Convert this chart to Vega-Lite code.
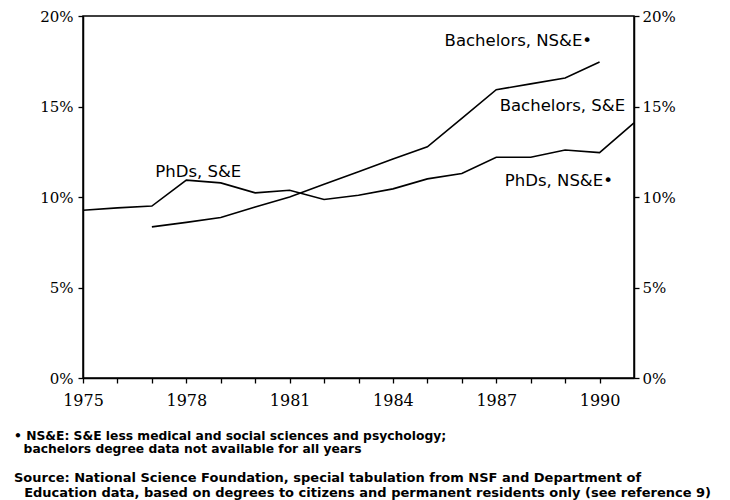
{
  "$schema": "https://vega.github.io/schema/vega-lite/v6.json",
  "autosize": "none",
  "width": 551,
  "height": 362,
  "padding": {"left": 83, "top": 16, "right": 96, "bottom": 122},
  "background": "white",
  "config": {
    "view": {"stroke": "black", "strokeWidth": 1.5},
    "axis": {"domainColor": "black", "tickColor": "black", "labelColor": "black", "grid": false, "domainWidth": 1.5, "tickWidth": 1.3, "labelOverlap": false, "labelFlush": false},
    "axisX": {"labelOverlap": false}
  },
  "title": {
    "text": ["\u2022 NS&E: S&E less medical and social sciences and psychology;", "\u2800bachelors degree data not available for all years"],
    "subtitle": ["Source: National Science Foundation, special tabulation from NSF and Department of", "\u2800Education data, based on degrees to citizens and permanent residents only (see reference 9)"],
    "orient": "bottom",
    "anchor": "start",
    "frame": "group",
    "dx": -69,
    "offset": 22,
    "font": "DejaVu Sans",
    "fontSize": 12.3,
    "fontWeight": "bold",
    "lineHeight": 13,
    "color": "black",
    "subtitleFont": "DejaVu Sans",
    "subtitleFontSize": 13,
    "subtitleFontWeight": "bold",
    "subtitleLineHeight": 15,
    "subtitleColor": "black",
    "subtitlePadding": 17
  },
  "layer": [
    {
      "data": {"values": [
        {"series": "PhDs, S&E", "year": 1975, "pct": 9.27},
        {"series": "PhDs, S&E", "year": 1976, "pct": 9.4},
        {"series": "PhDs, S&E", "year": 1977, "pct": 9.5},
        {"series": "PhDs, S&E", "year": 1978, "pct": 10.93},
        {"series": "PhDs, S&E", "year": 1979, "pct": 10.78},
        {"series": "PhDs, S&E", "year": 1980, "pct": 10.23},
        {"series": "PhDs, S&E", "year": 1981, "pct": 10.37},
        {"series": "PhDs, S&E", "year": 1982, "pct": 9.86},
        {"series": "PhDs, S&E", "year": 1983, "pct": 10.1},
        {"series": "PhDs, S&E", "year": 1984, "pct": 10.45},
        {"series": "PhDs, S&E", "year": 1985, "pct": 11.0},
        {"series": "PhDs, S&E", "year": 1986, "pct": 11.3},
        {"series": "PhDs, S&E", "year": 1987, "pct": 12.2},
        {"series": "PhDs, S&E", "year": 1988, "pct": 12.2},
        {"series": "PhDs, S&E", "year": 1989, "pct": 12.6},
        {"series": "PhDs, S&E", "year": 1990, "pct": 12.45},
        {"series": "PhDs, S&E", "year": 1991, "pct": 14.1},
        {"series": "Bachelors, NS&E*", "year": 1977, "pct": 8.35},
        {"series": "Bachelors, NS&E*", "year": 1978, "pct": 8.6},
        {"series": "Bachelors, NS&E*", "year": 1979, "pct": 8.87},
        {"series": "Bachelors, NS&E*", "year": 1980, "pct": 9.45},
        {"series": "Bachelors, NS&E*", "year": 1981, "pct": 10.0},
        {"series": "Bachelors, NS&E*", "year": 1982, "pct": 10.7},
        {"series": "Bachelors, NS&E*", "year": 1983, "pct": 11.4},
        {"series": "Bachelors, NS&E*", "year": 1984, "pct": 12.1},
        {"series": "Bachelors, NS&E*", "year": 1985, "pct": 12.77},
        {"series": "Bachelors, NS&E*", "year": 1986, "pct": 14.35},
        {"series": "Bachelors, NS&E*", "year": 1987, "pct": 15.93},
        {"series": "Bachelors, NS&E*", "year": 1988, "pct": 16.25},
        {"series": "Bachelors, NS&E*", "year": 1989, "pct": 16.57},
        {"series": "Bachelors, NS&E*", "year": 1990, "pct": 17.46}
      ]},
      "mark": {"type": "line", "color": "black", "strokeWidth": 1.6},
      "encoding": {
        "x": {
          "field": "year", "type": "quantitative",
          "scale": {"domain": [1975, 1991], "nice": false, "zero": false},
          "axis": {
            "title": null,
            "values": [1975, 1976, 1977, 1978, 1979, 1980, 1981, 1982, 1983, 1984, 1985, 1986, 1987, 1988, 1989, 1990],
            "labelExpr": "(datum.value - 1975) % 3 == 0 ? datum.value : ''",
            "format": "d",
            "labelFont": "DejaVu Serif",
            "labelFontSize": 16,
            "labelPadding": 9,
            "tickSize": 5,
            "labelFlush": false,
            "labelOverlap": false
          }
        },
        "y": {
          "field": "pct", "type": "quantitative",
          "scale": {"domain": [0, 20], "nice": false},
          "axis": {
            "title": null,
            "orient": "left",
            "values": [0, 5, 10, 15, 20],
            "labelExpr": "datum.value + '%'",
            "labelFont": "DejaVu Serif",
            "labelFontSize": 15,
            "tickSize": 5,
            "labelPadding": 5,
            "labelFlush": false
          }
        },
        "detail": {"field": "series"}
      }
    },
    {
      "data": {"values": [
        {"label": "Bachelors, NS&E\u2022", "year": 1985.5, "pct": 18.6},
        {"label": "Bachelors, S&E", "year": 1987.1, "pct": 15.05},
        {"label": "PhDs, NS&E\u2022", "year": 1987.25, "pct": 10.9},
        {"label": "PhDs, S&E", "year": 1977.1, "pct": 11.4}
      ]},
      "mark": {"type": "text", "align": "left", "baseline": "middle", "font": "DejaVu Sans", "fontSize": 16.5, "color": "black"},
      "encoding": {
        "x": {
          "field": "year", "type": "quantitative",
          "axis": {
            "title": null,
            "values": [1975, 1976, 1977, 1978, 1979, 1980, 1981, 1982, 1983, 1984, 1985, 1986, 1987, 1988, 1989, 1990],
            "labelExpr": "(datum.value - 1975) % 3 == 0 ? datum.value : ''",
            "format": "d",
            "labelFont": "DejaVu Serif",
            "labelFontSize": 16,
            "labelPadding": 9,
            "tickSize": 5,
            "labelFlush": false,
            "labelOverlap": false
          }
        },
        "y": {
          "field": "pct", "type": "quantitative",
          "axis": {
            "title": null,
            "orient": "right",
            "values": [0, 5, 10, 15, 20],
            "labelExpr": "datum.value + '%'",
            "labelFont": "DejaVu Serif",
            "labelFontSize": 15,
            "tickSize": 5,
            "labelPadding": 3,
            "labelFlush": false
          }
        },
        "text": {"field": "label"}
      }
    }
  ],
  "resolve": {"axis": {"y": "independent"}}
}
